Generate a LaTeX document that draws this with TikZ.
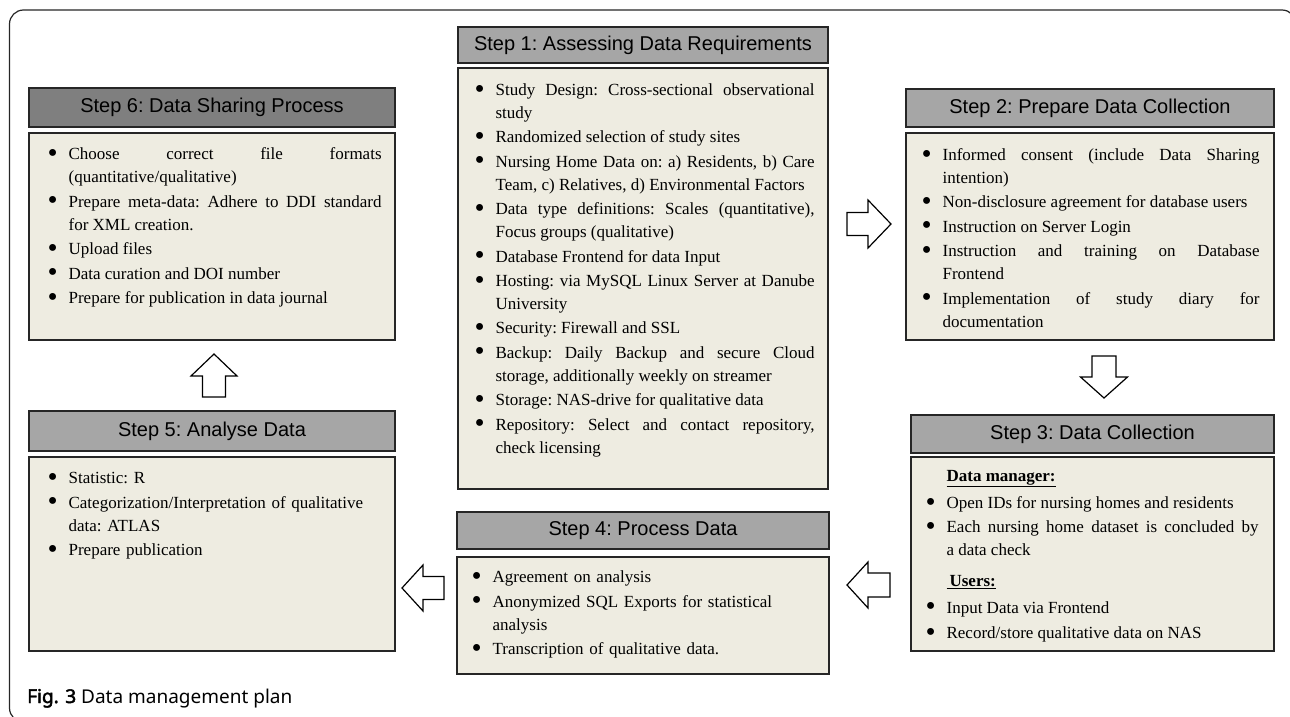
\documentclass[tikz,border=0pt]{standalone}
\usepackage{fontspec}
\usepackage{graphicx}
\setmainfont{Liberation Serif}
\newfontfamily\headsans{Liberation Sans}
\newfontfamily\capsans{Noto Sans}[AutoFakeBold=2.5]
\usetikzlibrary{calc}

\definecolor{bodyfill}{HTML}{EEECE1}
\definecolor{headfill}{HTML}{A6A6A6}
\definecolor{headdark}{HTML}{7F7F7F}
\definecolor{edgecol}{HTML}{262626}

\newcommand{\bodyfont}{\fontsize{17}{23}\selectfont\frenchspacing\hyphenpenalty=10000\exhyphenpenalty=10000}
\newcommand{\bdot}{\raisebox{-2.6pt}{\scalebox{1.7}{\textbullet}}}
\newcommand{\bitem}[1]{\hangindent=21pt\hangafter=1\noindent\hbox to 21pt{\bdot\hfil}#1\par\vspace{1.4pt}}
\newcommand{\bhead}[1]{\noindent\hspace*{21pt}\underline{\textbf{#1}}\par}

\begin{document}
\begin{tikzpicture}[x=1pt, y=-1pt,
  header/.style={draw=edgecol, fill=headfill, line width=1.2pt, inner sep=0pt,
    font=\headsans\fontsize{20}{24}\selectfont\frenchspacing},
  bodybox/.style={draw=edgecol, fill=bodyfill, line width=1.2pt, inner sep=0pt},
  bodytext/.style={anchor=base west, inner sep=0pt, align=justify, font=\bodyfont},
  blockarrow/.style={draw=black, fill=white, line width=1.2pt, line join=miter}]
\useasboundingbox (0,0) rectangle (1290,717);

% frame
\draw[edgecol, line width=1.2pt, rounded corners=14pt] (9.5,10) rectangle (1296,722);

% step 1
\node[header, minimum width=370, minimum height=36] (s1) at (643,45) {Step 1: Assessing Data Requirements};
\node[bodybox, minimum width=370, minimum height=421] (s1b) at (643,278.5) {};
\node[bodytext, text width=340pt] (s1t) at ($(s1b.north west)+(17,28)$) {%
\bitem{Study Design: Cross-sectional observational\linebreak study}
\bitem{Randomized selection of study sites}
\bitem{Nursing Home Data on: a) Residents, b) Care\linebreak Team, c) Relatives, d) Environmental Factors}
\bitem{Data type definitions: Scales (quantitative),\linebreak Focus groups (qualitative)}
\bitem{Database Frontend for data Input}
\bitem{Hosting: via MySQL Linux Server at Danube\linebreak University}
\bitem{Security: Firewall and SSL}
\bitem{Backup: Daily Backup and secure Cloud\linebreak storage, additionally weekly on streamer}
\bitem{Storage: NAS-drive for qualitative data}
\bitem{Repository: Select and contact repository,\linebreak check licensing}};

% step 2
\node[header, minimum width=368, minimum height=38] (s2) at (1090,108) {Step 2: Prepare Data Collection};
\node[bodybox, minimum width=368, minimum height=207] (s2b) at (1090,236.5) {};
\node[bodytext, text width=338pt] (s2t) at ($(s2b.north west)+(16,28)$) {%
\bitem{Informed consent (include Data Sharing\linebreak intention)}
\bitem{Non-disclosure agreement for database users}
\bitem{Instruction on Server Login}
\bitem{Instruction and training on Database\linebreak Frontend}
\bitem{Implementation of study diary for\linebreak documentation}};

% step 3
\node[header, minimum width=363, minimum height=38] (s3) at (1092.5,434) {Step 3: Data Collection};
\node[bodybox, minimum width=363, minimum height=194] (s3b) at (1092.5,554) {};
\node[bodytext, text width=333pt] (s3t) at ($(s3b.north west)+(15,25)$) {%
\bhead{Data manager:}\vspace{4pt}
\bitem{Open IDs for nursing homes and residents}
\bitem{Each nursing home dataset is concluded by\linebreak a data check}
\vspace{6pt}\bhead{\hspace{3pt}Users:}\vspace{4pt}
\bitem{Input Data via Frontend}\vspace{1pt}
\bitem{Record/store qualitative data on NAS}};

% step 4
\node[header, minimum width=372, minimum height=37] (s4) at (643,530.5) {Step 4: Process Data};
\node[bodybox, minimum width=372, minimum height=117] (s4b) at (643,615.5) {};
\node[bodytext, align=left, text width=343pt] (s4t) at ($(s4b.north west)+(15,26.5)$) {%
\bitem{Agreement on analysis}
\bitem{Anonymized SQL Exports for statistical\newline analysis}
\bitem{Transcription of qualitative data.}};

% step 5
\node[header, minimum width=366, minimum height=40] (s5) at (212,431) {Step 5: Analyse Data};
\node[bodybox, minimum width=366, minimum height=194] (s5b) at (212,554) {};
\node[bodytext, align=left, text width=334pt] (s5t) at ($(s5b.north west)+(19,27.5)$) {%
\bitem{Statistic: R}
\bitem{Categorization/Interpretation of qualitative\newline data: ATLAS}
\bitem{Prepare publication}};

% step 6
\node[header, fill=headdark, minimum width=366, minimum height=39] (s6) at (212,107.5) {Step 6: Data Sharing Process};
\node[bodybox, minimum width=366, minimum height=207] (s6b) at (212,236.5) {};
\node[bodytext, text width=334pt] (s6t) at ($(s6b.north west)+(19,27.5)$) {%
\bitem{Choose correct file formats\linebreak (quantitative/qualitative)}
\bitem{Prepare meta-data: Adhere to DDI standard\linebreak for XML creation.}
\bitem{Upload files}
\bitem{Data curation and DOI number}
\bitem{Prepare for publication in data journal}};

% block arrows
\draw[blockarrow] (847,212.5) -- (868,212.5) -- (868,200) -- (891,224) -- (868,248) -- (868,235.5) -- (847,235.5) -- cycle;
\draw[blockarrow] (1092,356) -- (1116,356) -- (1116,377) -- (1127.5,377) -- (1104,398) -- (1080.5,377) -- (1092,377) -- cycle;
\draw[blockarrow] (890,573) -- (868,573) -- (868,562) -- (847,585) -- (868,608) -- (868,597) -- (890,597) -- cycle;
\draw[blockarrow] (444,576.5) -- (423,576.5) -- (423,565) -- (402,588) -- (423,611) -- (423,599.5) -- (444,599.5) -- cycle;
\draw[blockarrow] (202.5,397) -- (202.5,376) -- (191,376) -- (214,354) -- (237,376) -- (225.5,376) -- (225.5,397) -- cycle;

% caption
\node[anchor=base west, inner sep=0pt, font=\capsans\fontsize{19}{22}\selectfont] (cap) at (27,703) {\textbf{Fig. 3} Data management plan};
\end{tikzpicture}
\end{document}
